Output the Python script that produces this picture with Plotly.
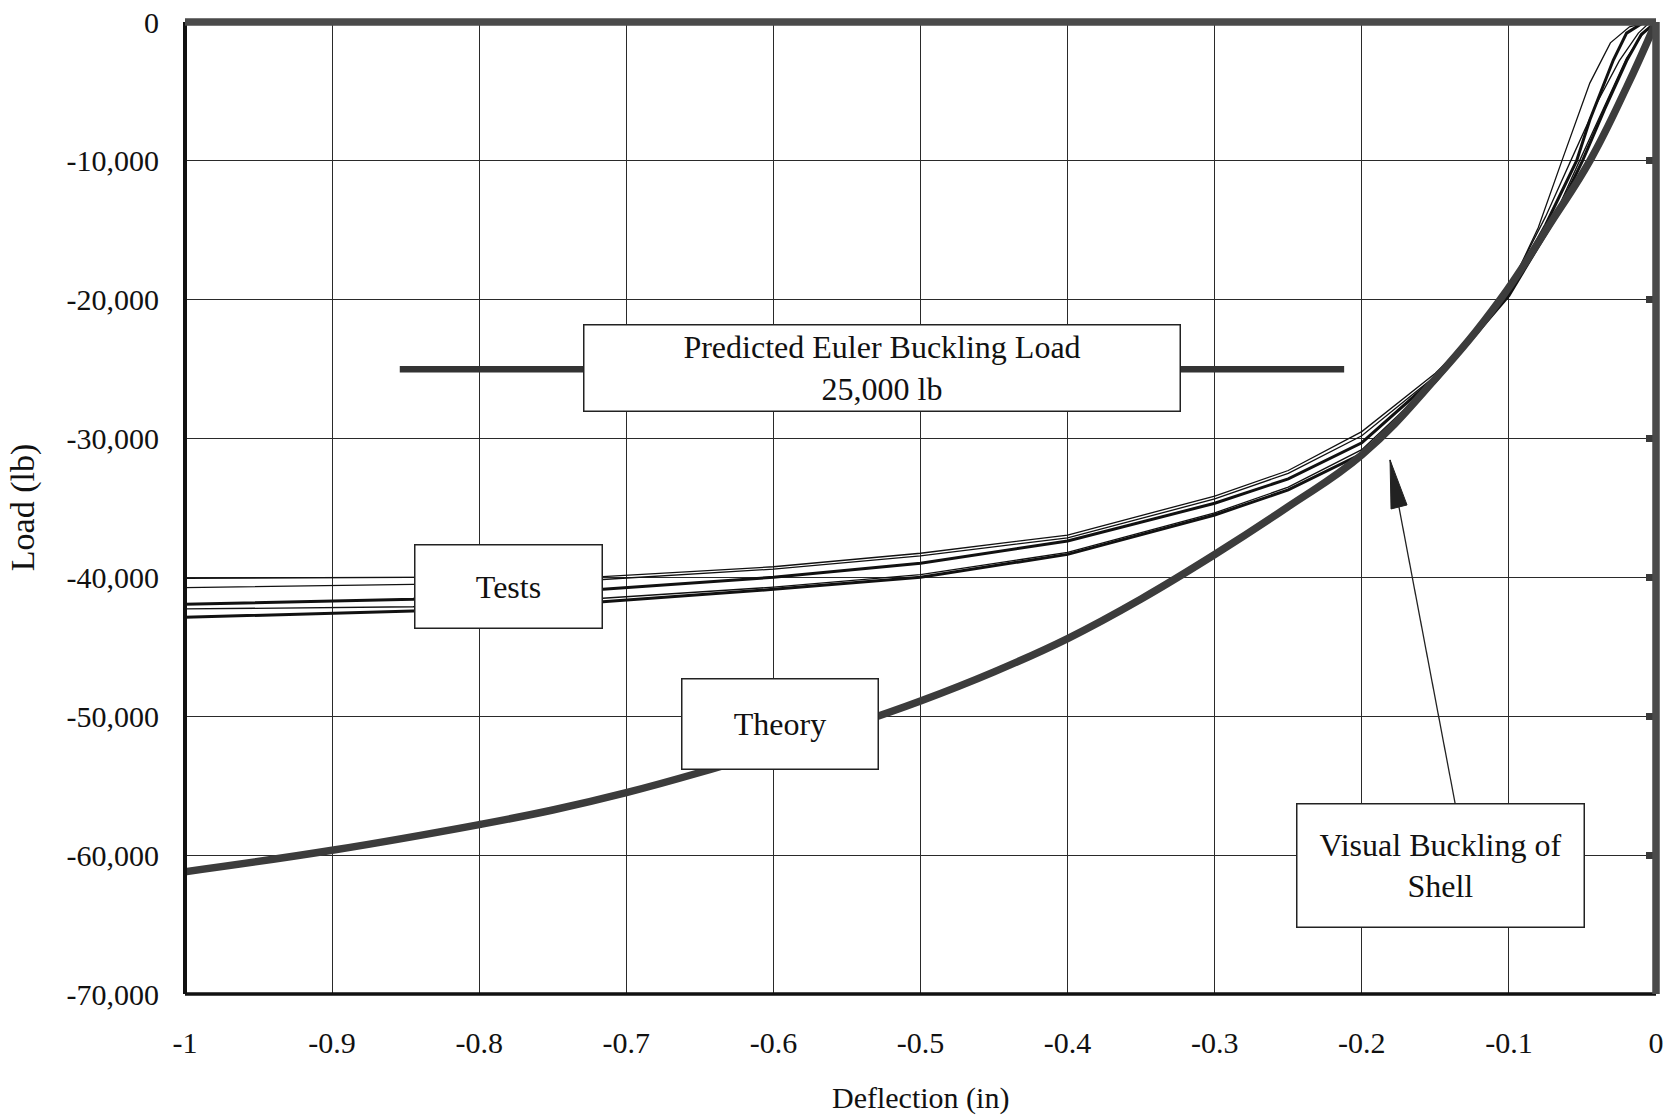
import plotly.graph_objects as go

# ---------------- data ----------------
x_ticks = [-1.0, -0.9, -0.8, -0.7, -0.6, -0.5, -0.4, -0.3, -0.2, -0.1, 0.0]
x_tick_labels = ["-1", "-0.9", "-0.8", "-0.7", "-0.6", "-0.5", "-0.4", "-0.3", "-0.2", "-0.1", "0"]
y_ticks = [0, -10000, -20000, -30000, -40000, -50000, -60000, -70000]
y_tick_labels = ["0", "-10,000", "-20,000", "-30,000", "-40,000", "-50,000", "-60,000", "-70,000"]

theory_x = [-1.0, -0.9, -0.8, -0.75, -0.7, -0.65, -0.6, -0.55, -0.5, -0.45, -0.4, -0.35, -0.3, -0.25,
            -0.2, -0.15, -0.106, -0.07, -0.045, -0.02, 0.0]
theory_load = [-61190, -59650, -57800, -56750, -55500, -54050, -52450, -50750, -48900, -46800, -44400,
               -41550, -38350, -34900, -31180, -25700, -20000, -14200, -10000, -4700, 0]

test1_x = [-1.0, -0.845, -0.716, -0.6, -0.5, -0.4, -0.3, -0.25, -0.2, -0.15, -0.12, -0.1, -0.08, -0.064,
           -0.045, -0.031, -0.018, -0.006]
test1_load = [-40060, -40020, -39940, -39230, -38260, -36950, -34140, -32300, -29500, -25300, -22200, -19300,
              -14800, -10000, -4400, -1500, -350, 0]

test2_x = [-1.0, -0.845, -0.716, -0.6, -0.5, -0.4, -0.3, -0.25, -0.2, -0.15, -0.1, -0.075, -0.058, -0.04,
           -0.025, -0.012, -0.004]
test2_load = [-40740, -40500, -40150, -39400, -38450, -37150, -34350, -32500, -29800, -25500, -19200, -14000,
              -10000, -5800, -2800, -800, 0]

test3_x = [-1.0, -0.845, -0.716, -0.6, -0.5, -0.4, -0.3, -0.25, -0.2, -0.15, -0.1, -0.075, -0.054, -0.045,
           -0.029, -0.02, -0.008]
test3_load = [-41940, -41580, -40860, -39990, -38980, -37380, -34660, -32900, -30300, -25600, -19400, -14600,
              -10000, -7060, -2740, -800, 0]

test4_x = [-1.0, -0.845, -0.716, -0.6, -0.5, -0.4, -0.3, -0.25, -0.2, -0.15, -0.1, -0.07, -0.052, -0.035,
           -0.02, -0.008, 0.0]
test4_load = [-42270, -42110, -41500, -40700, -39800, -38200, -35350, -33500, -30800, -25800, -19600, -14200,
              -10000, -6000, -2600, -700, 0]

test5_x = [-1.0, -0.845, -0.716, -0.6, -0.5, -0.4, -0.3, -0.25, -0.2, -0.15, -0.1, -0.07, -0.05, -0.035,
           -0.02, -0.01, 0.0]
test5_load = [-42870, -42420, -41750, -40860, -39990, -38340, -35500, -33700, -31100, -25900, -19700, -14400,
              -10000, -6300, -2800, -900, 0]

euler_x = [-0.854, -0.212]
euler_load = -25000

# annotation anchor points (data coordinates)
arrow_tail = (-0.1366, -56245)
arrow_head = (-0.1808, -31540)

FONT = "Liberation Serif"
INK = "#111111"

fig = go.Figure()

tests = [
    (test1_x, test1_load, 1.3),
    (test2_x, test2_load, 1.3),
    (test3_x, test3_load, 3.0),
    (test4_x, test4_load, 1.3),
    (test5_x, test5_load, 3.0),
]
for tx, ty, w in tests:
    fig.add_trace(go.Scatter(x=tx, y=ty, mode="lines", line=dict(color="#111111", width=w),
                             hoverinfo="skip"))

fig.add_trace(go.Scatter(x=theory_x, y=theory_load, mode="lines", line_shape="spline",
                         line=dict(color="#3c3c3c", width=7.5, smoothing=1.2), hoverinfo="skip"))

fig.add_trace(go.Scatter(x=euler_x, y=[euler_load] * len(euler_x), mode="lines",
                         line=dict(color="#333333", width=6.5), hoverinfo="skip"))

# invisible trace to activate the right-hand tick axis
fig.add_trace(go.Scatter(x=[x_ticks[0]], y=[y_ticks[-1]], yaxis="y2", mode="markers",
                         marker=dict(opacity=0), hoverinfo="skip"))

box = dict(font=dict(family=FONT, size=32, color=INK), bgcolor="white", bordercolor="#222222",
           borderwidth=1.5, borderpad=0, showarrow=False, align="center", valign="middle",
           xref="x", yref="y")

fig.add_annotation(x=-0.526, y=-24900, text="Predicted Euler Buckling Load<br>25,000 lb",
                   width=595, height=85, **box)
fig.add_annotation(x=-0.780, y=-40650, text="Tests", width=186, height=82, **box)
fig.add_annotation(x=-0.5955, y=-50555, text="Theory", width=195, height=89, **box)
fig.add_annotation(x=-0.1465, y=-60745, text="Visual Buckling of<br>Shell", width=286, height=122, **box)

# axis titles
fig.add_annotation(x=0.5, y=-0.107, xref="paper", yref="paper", text="Deflection (in)", showarrow=False,
                   xanchor="center", yanchor="middle", font=dict(family=FONT, size=30, color=INK))
fig.add_annotation(x=-0.110, y=0.5, xref="paper", yref="paper", text="Load (lb)", showarrow=False,
                   textangle=-90, xanchor="center", yanchor="middle",
                   font=dict(family=FONT, size=34, color=INK))

shapes = [
    # arrow shaft
    dict(type="line", xref="x", yref="y", x0=arrow_tail[0], y0=arrow_tail[1], x1=arrow_head[0],
         y1=arrow_head[1], line=dict(color="#222222", width=1.3), layer="above"),
    # arrow head
    dict(type="path", xref="x", yref="y", xsizemode="pixel", ysizemode="pixel",
         xanchor=arrow_head[0], yanchor=arrow_head[1], path="M0,0 L17,-45 L1,-49 Z",
         fillcolor="#222222", line=dict(color="#222222", width=1), layer="above"),
    # frame
    dict(type="line", xref="paper", yref="paper", x0=0, x1=0, y0=0, y1=1,
         line=dict(color="#111111", width=4), layer="above"),
    dict(type="line", xref="paper", yref="paper", x0=0, x1=1, y0=0, y1=0,
         line=dict(color="#111111", width=3.5), layer="above"),
    dict(type="line", xref="paper", yref="paper", x0=0, x1=1, y0=1, y1=1,
         line=dict(color="#4a4a4a", width=7.5), layer="above"),
    dict(type="line", xref="paper", yref="paper", x0=1, x1=1, y0=0, y1=1,
         line=dict(color="#4a4a4a", width=7.5), layer="above"),
]

fig.update_layout(
    width=1677, height=1120,
    margin=dict(l=185, r=21, t=22, b=126, autoexpand=False),
    paper_bgcolor="white", plot_bgcolor="white",
    showlegend=False,
    font=dict(family=FONT, size=30, color=INK),
    shapes=shapes,
    xaxis=dict(range=[-1, 0], tickvals=x_ticks, ticktext=x_tick_labels, showgrid=True,
               gridcolor="#2a2a2a", gridwidth=1.2, zeroline=False, showline=False, ticks="",
               tickfont=dict(family=FONT, size=30, color=INK), ticklabelstandoff=28,
               automargin=False, fixedrange=True),
    yaxis=dict(range=[-70000, 0], tickvals=y_ticks, ticktext=y_tick_labels, showgrid=True,
               gridcolor="#2a2a2a", gridwidth=1.2, zeroline=False, showline=False, ticks="",
               tickfont=dict(family=FONT, size=30, color=INK), ticklabelstandoff=25,
               automargin=False, fixedrange=True),
    yaxis2=dict(range=[-70000, 0], overlaying="y", side="right", tickvals=y_ticks, showticklabels=False,
                ticks="inside", ticklen=10, tickwidth=7, tickcolor="#3a3a3a", showgrid=False,
                zeroline=False, showline=False, automargin=False, fixedrange=True),
)

fig.write_html("out.html")
